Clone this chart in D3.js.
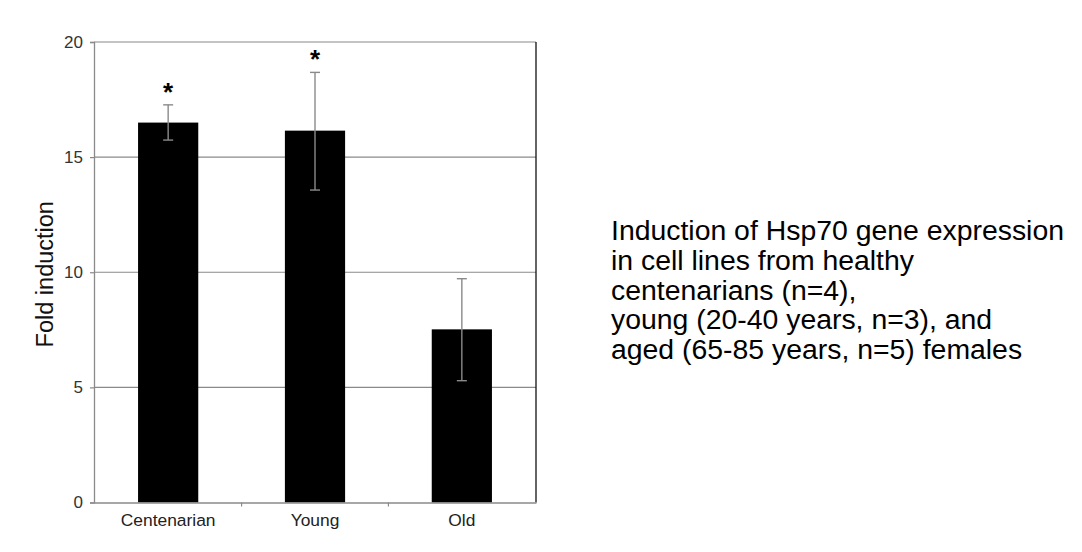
<!DOCTYPE html>
<html><head><meta charset="utf-8">
<script src="https://cdn.jsdelivr.net/npm/d3@7"></script>
<style>body{margin:0;background:#fff}svg{display:block}</style>
</head><body><svg id="c" width="1082" height="552"></svg>
<script>
const categories = ["Centenarian", "Young", "Old"];
const foldInduction = [16.5, 16.15, 7.52];
const errorUpper = [17.27, 18.68, 9.72];
const errorLower = [15.74, 13.57, 5.29];
const significant = [true, true, false];
const yTicks = [0, 5, 10, 15, 20];
const yLabel = "Fold induction";
const caption = ["Induction of Hsp70 gene expression", "in cell lines from healthy", "centenarians (n=4),", "young (20-40 years, n=3), and", "aged (65-85 years, n=5) females"];

const svg = d3.select("#c");
const L = 94, R = 536, T = 42, B = 502.5;
const font = "Liberation Sans, Arial, Helvetica, sans-serif";
const x = d3.scaleBand().domain(categories).range([L, R]).paddingInner(0.59).paddingOuter(0.3);
const y = d3.scaleLinear().domain([0, 20]).range([B, T]);

// gridlines
svg.append("g").selectAll("line").data(yTicks.filter(t => t > 0 && t < 20)).join("line")
  .attr("x1", L).attr("x2", R).attr("y1", d => y(d)).attr("y2", d => y(d))
  .attr("stroke", "#8a8a8a").attr("stroke-width", 1.2);

// frame top / right
svg.append("line").attr("x1", L).attr("x2", R).attr("y1", y(20)).attr("y2", y(20)).attr("stroke", "#8a8a8a").attr("stroke-width", 1.2);
svg.append("line").attr("x1", R).attr("x2", R).attr("y1", y(20)).attr("y2", y(0)).attr("stroke", "#111").attr("stroke-width", 1.3);

// bars
svg.append("g").selectAll("rect").data(categories).join("rect")
  .attr("x", d => x(d)).attr("width", x.bandwidth())
  .attr("y", (d, i) => y(foldInduction[i])).attr("height", (d, i) => y(0) - y(foldInduction[i]))
  .attr("fill", "#000");

// error bars
const eg = svg.append("g").attr("stroke", "#8a8a8a").attr("stroke-width", 1.4);
categories.forEach((c, i) => {
  const cx = x(c) + x.bandwidth() / 2;
  eg.append("line").attr("x1", cx).attr("x2", cx).attr("y1", y(errorUpper[i])).attr("y2", y(errorLower[i]));
  [errorUpper[i], errorLower[i]].forEach(v => {
    eg.append("line").attr("x1", cx - 5).attr("x2", cx + 5).attr("y1", y(v)).attr("y2", y(v));
  });
  if (significant[i]) {
    svg.append("text").attr("x", cx).attr("y", y(errorUpper[i]) - 18 + 14)
      .attr("text-anchor", "middle").attr("font-family", font).attr("font-size", 26).attr("font-weight", "bold")
      .attr("fill", "#000").text("*");
  }
});

// y axis
const yAxis = svg.append("g").attr("transform", `translate(${L},0)`)
  .call(d3.axisLeft(y).tickValues(yTicks).tickSize(4).tickPadding(7));
yAxis.select(".domain").attr("stroke", "#8a8a8a").attr("stroke-width", 1.3);
yAxis.selectAll(".tick line").attr("stroke", "#8a8a8a").attr("stroke-width", 1.2);
yAxis.selectAll(".tick text").attr("font-family", font).attr("font-size", 17).attr("fill", "#333");

// x axis
const xAxis = svg.append("g").attr("transform", `translate(0,${B})`)
  .call(d3.axisBottom(x).tickSize(0).tickPadding(11));
xAxis.select(".domain").attr("stroke", "#8a8a8a").attr("stroke-width", 1.3);
xAxis.selectAll(".tick text").attr("font-family", font).attr("font-size", 17.4).attr("fill", "#222");
// separator ticks between categories
svg.append("g").selectAll("line").data(categories.slice(1)).join("line")
  .attr("x1", d => x(d) - x.step() * x.paddingInner() / 2).attr("x2", d => x(d) - x.step() * x.paddingInner() / 2)
  .attr("y1", B).attr("y2", B + 4).attr("stroke", "#8a8a8a").attr("stroke-width", 1.2);

// y label
svg.append("text").attr("transform", `translate(53,${(T + B) / 2 + 2}) rotate(-90)`)
  .attr("text-anchor", "middle").attr("font-family", font).attr("font-size", 23.5).attr("fill", "#111").text(yLabel);

// caption (one multi-line text block)
svg.append("text").attr("x", 611).attr("y", 240)
  .attr("font-family", font).attr("font-size", 28.4).attr("fill", "#000")
  .selectAll("tspan").data(caption).join("tspan")
  .attr("x", 611).attr("dy", (d, i) => i === 0 ? 0 : 29.8).text(d => d);
</script></body></html>
